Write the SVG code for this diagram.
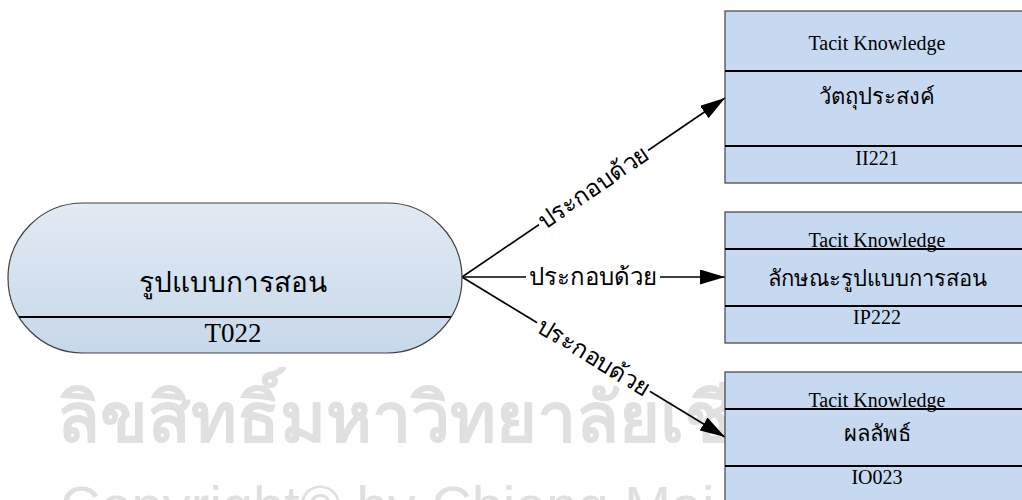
<svg xmlns="http://www.w3.org/2000/svg" width="1022" height="500" viewBox="0 0 1022 500">
<defs>
<linearGradient id="gStad" x1="0" y1="0" x2="0" y2="1">
<stop offset="0" stop-color="#e2eaf3"/>
<stop offset="1" stop-color="#c6d8ea"/>
</linearGradient>
<marker id="arr" markerUnits="userSpaceOnUse" markerWidth="26" markerHeight="16" refX="25" refY="7.5" orient="auto">
<path d="M0,0 L25,7.5 L0,15 z" fill="#000"/>
</marker>
<style>
.box{fill:#c6d9f0;stroke:#404040;stroke-width:1.2}
.div{stroke:#000;stroke-width:2}
.en{font-family:"Liberation Serif","Times New Roman",serif;font-size:20px;fill:#000;text-anchor:middle}
.th{font-family:"Liberation Serif","Noto Sans",serif;font-size:22px;fill:#000;text-anchor:middle}
.lbl{font-family:"Liberation Serif","Noto Sans",serif;font-size:24px;fill:#000;text-anchor:middle}
.con{stroke:#000;stroke-width:1.6;fill:none;marker-end:url(#arr)}
.wm{font-family:"Liberation Sans","Noto Sans",sans-serif;fill:#e0e0e0}
</style>
</defs>
<rect width="1022" height="500" fill="#fff"/>
<g id="watermark">
<text class="wm" x="57" y="442" style="font-size:70px;font-weight:bold">ลิขสิทธิ์มหาวิทยาลัยเชียงใหม่</text>
<text class="wm" x="60" y="525" style="font-size:56px">Copyright© by Chiang Mai University</text>
</g>
<g id="connectors">
<line class="con" x1="462" y1="277" x2="725" y2="98"/>
<line class="con" x1="462" y1="277" x2="725" y2="277"/>
<line class="con" x1="462" y1="277" x2="725" y2="437"/>
<g transform="translate(593.5,187.5) rotate(-34.2)">
<rect x="-66" y="-13" width="132" height="26" fill="#fff"/>
<text class="lbl" x="0" y="8">ประกอบด้วย</text>
</g>
<g transform="translate(593,277)">
<rect x="-67" y="-13" width="134" height="28" fill="#fff"/>
<text class="lbl" x="0" y="8">ประกอบด้วย</text>
</g>
<g transform="translate(593.5,357) rotate(31.3)">
<rect x="-66" y="-13" width="132" height="26" fill="#fff"/>
<text class="lbl" x="0" y="8">ประกอบด้วย</text>
</g>
</g>
<g id="node-T022">
<rect x="8" y="203" width="454" height="150" rx="75" ry="75" fill="url(#gStad)" stroke="#404040" stroke-width="1.2"/>
<line class="div" x1="19" y1="317" x2="451" y2="317"/>
<text class="th" x="233" y="292" style="font-size:28px">รูปแบบการสอน</text>
<text class="en" x="233" y="342" style="font-size:27px">T022</text>
</g>
<g id="node-II221">
<rect class="box" x="725" y="11" width="305" height="172"/>
<line class="div" x1="725" y1="71" x2="1030" y2="71"/>
<line class="div" x1="725" y1="146" x2="1030" y2="146"/>
<text class="en" x="877" y="50">Tacit Knowledge</text>
<text class="th" x="877" y="104">วัตถุประสงค์</text>
<text class="en" x="877" y="165">II221</text>
</g>
<g id="node-IP222">
<rect class="box" x="725" y="212" width="305" height="131"/>
<line class="div" x1="725" y1="249" x2="1030" y2="249"/>
<line class="div" x1="725" y1="306" x2="1030" y2="306"/>
<text class="en" x="877" y="247">Tacit Knowledge</text>
<text class="th" x="877" y="286">ลักษณะรูปแบบการสอน</text>
<text class="en" x="877" y="324">IP222</text>
</g>
<g id="node-IO023">
<rect class="box" x="725" y="372" width="305" height="131"/>
<line class="div" x1="725" y1="409" x2="1030" y2="409"/>
<line class="div" x1="725" y1="466" x2="1030" y2="466"/>
<text class="en" x="877" y="407">Tacit Knowledge</text>
<text class="th" x="877" y="441">ผลลัพธ์</text>
<text class="en" x="877" y="484">IO023</text>
</g>
</svg>
